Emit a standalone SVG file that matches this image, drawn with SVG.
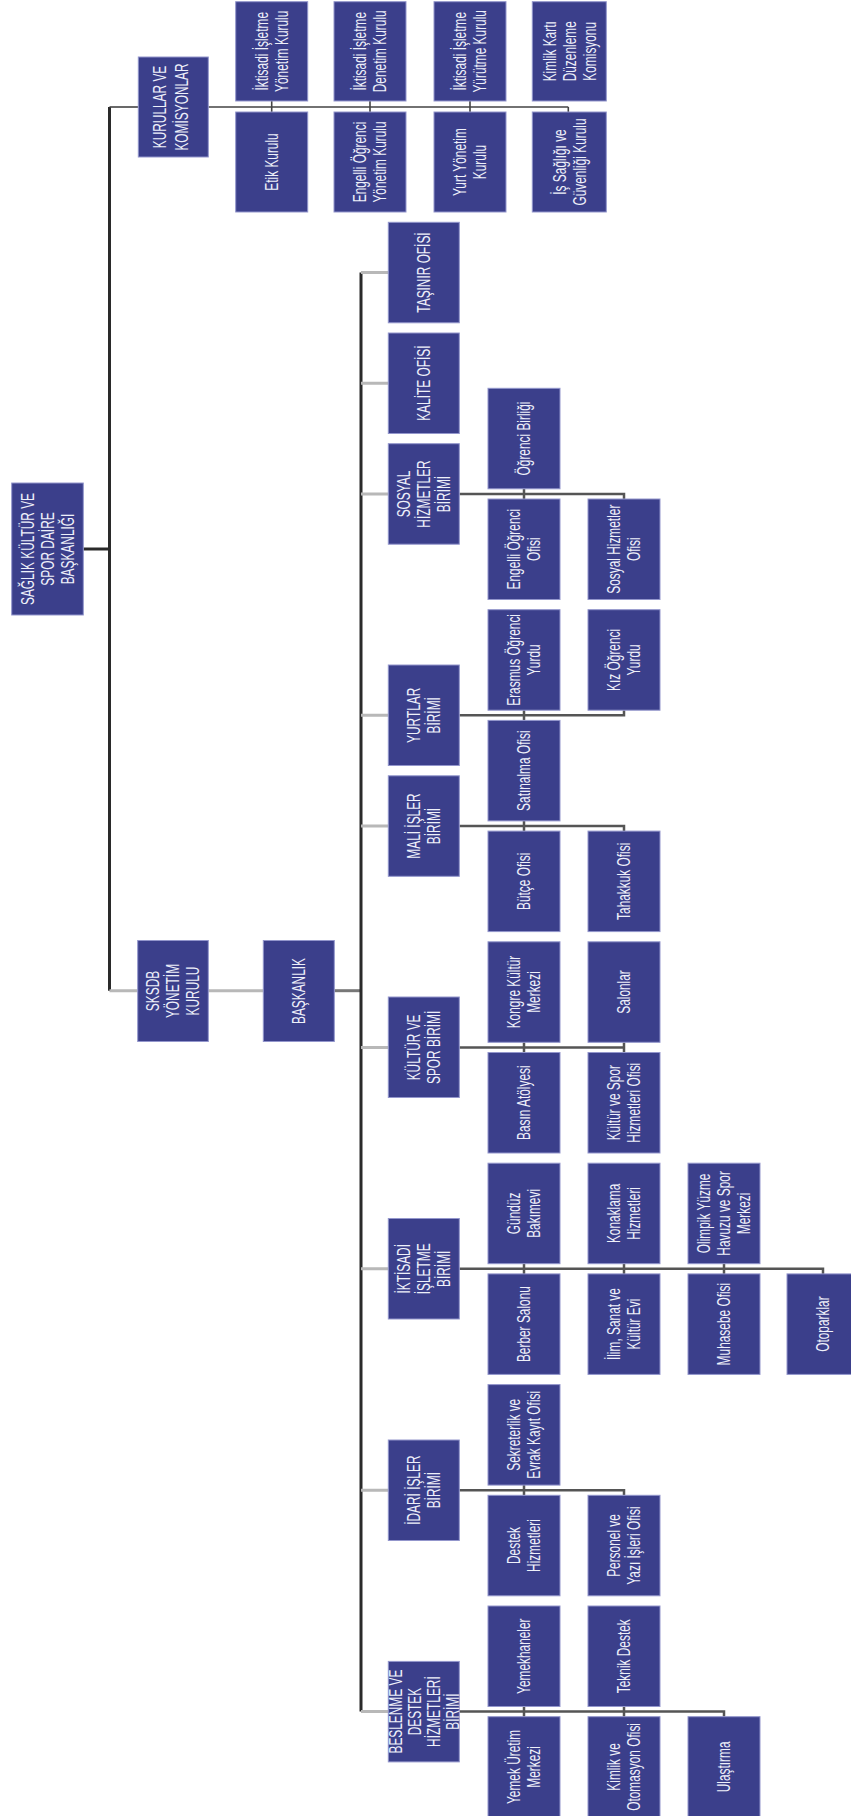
<svg xmlns="http://www.w3.org/2000/svg" width="851" height="1816" viewBox="0 0 851 1816">
<style>
.b{fill:#3b3f8b;stroke:#9396cc;stroke-width:1}
.t{font-family:"Liberation Sans",Arial,sans-serif;font-size:18px;fill:#eef0fa;text-anchor:middle}
.dk{fill:none;stroke:#2a2a2a;stroke-width:3}
.md{fill:none;stroke:#555;stroke-width:2.5}
.th{fill:none;stroke:#444;stroke-width:1.6}
.lg{fill:none;stroke:#b8b8b8;stroke-width:3}
.gr{fill:none;stroke:#777;stroke-width:3}
</style>
<rect width="851" height="1816" fill="#fff"/>
<g id="connectors">
<path class="dk" d="M83.3 549H109.5"/>
<path class="dk" d="M109.5 107V990.7"/>
<path class="th" d="M109.5 107H138.3"/>
<path class="lg" d="M109.5 990.7H137.7M208.3 990.7H263.3"/>
<path class="gr" d="M334.3 990.7H361"/>
<path class="dk" d="M361 272.5V1711.6"/>
<path class="lg" d="M361 272.5H388.3M361 383.2H388.3M361 494H388.3M361 715.3H388.3M361 826H388.3M361 1047.4H388.3M361 1268.8H388.3M361 1490.2H388.3M361 1711.6H388.3"/>
<path class="th" d="M208.3 107H568.3M271.7 101V112M370 101V112M470 101V112M568.3 107V112"/>
<path class="md" d="M459.3 494H624V499M524 489V499"/>
<path class="md" d="M459.3 715.3H624V710.2M524 710.2V720.4"/>
<path class="md" d="M459.3 826H624V831.1M524 820.9V831.1"/>
<path class="md" d="M459.3 1047.4H624M524 1042.3V1052.5M624 1042.3V1052.5"/>
<path class="md" d="M459.3 1268.8H823V1273.9M524 1263.7V1273.9M624 1263.7V1273.9M724 1263.7V1273.9"/>
<path class="md" d="M459.3 1490.2H624V1495.3M524 1485.1V1495.3"/>
<path class="md" d="M459.3 1711.6H724V1716.7M524 1706.5V1716.7M624 1706.5V1716.7"/>
</g>
<g id="root"><rect class="b" x="11.7" y="483" width="71.6" height="132"/><text class="t" transform="translate(47.5,549) rotate(-90) scale(0.66,1)"><tspan x="0" y="-13.6">SAĞLIK KÜLTÜR VE</tspan><tspan x="0" y="6.4">SPOR DAİRE</tspan><tspan x="0" y="26.4">BAŞKANLIĞI</tspan></text></g>
<g id="kurullar"><rect class="b" x="138.3" y="57" width="70" height="100"/><text class="t" transform="translate(171,107) rotate(-90) scale(0.66,1)"><tspan x="0" y="-4.6">KURULLAR VE</tspan><tspan x="0" y="17.4">KOMİSYONLAR</tspan></text></g>
<g id="sksdb"><rect class="b" x="137.7" y="940.5" width="70.6" height="101"/><text class="t" transform="translate(173,991) rotate(-90) scale(0.66,1)"><tspan x="0" y="-13.6">SKSDB</tspan><tspan x="0" y="6.4">YÖNETİM</tspan><tspan x="0" y="26.4">KURULU</tspan></text></g>
<g id="baskanlik"><rect class="b" x="263.3" y="940.5" width="71" height="101"/><text class="t" transform="translate(298.8,991) rotate(-90) scale(0.66,1)"><tspan x="0" y="6.4">BAŞKANLIK</tspan></text></g>
<g id="k1"><rect class="b" x="235.7" y="1.7" width="72" height="99.3"/><text class="t" transform="translate(271.7,51.3) rotate(-90) scale(0.66,1)"><tspan x="0" y="-3.6">İktisadi İşletme</tspan><tspan x="0" y="16.4">Yönetim Kurulu</tspan></text></g>
<g id="k2"><rect class="b" x="334" y="1.7" width="72" height="99.3"/><text class="t" transform="translate(370,51.3) rotate(-90) scale(0.66,1)"><tspan x="0" y="-3.6">İktisadi İşletme</tspan><tspan x="0" y="16.4">Denetim Kurulu</tspan></text></g>
<g id="k3"><rect class="b" x="434" y="1.7" width="72" height="99.3"/><text class="t" transform="translate(470,51.3) rotate(-90) scale(0.66,1)"><tspan x="0" y="-3.6">İktisadi İşletme</tspan><tspan x="0" y="16.4">Yürütme Kurulu</tspan></text></g>
<g id="k4"><rect class="b" x="532.3" y="1.7" width="74" height="99.3"/><text class="t" transform="translate(569.3,51.3) rotate(-90) scale(0.66,1)"><tspan x="0" y="-13.6">Kimlik Kartı</tspan><tspan x="0" y="6.4">Düzenleme</tspan><tspan x="0" y="26.4">Komisyonu</tspan></text></g>
<g id="k5"><rect class="b" x="235.7" y="112" width="72" height="100"/><text class="t" transform="translate(271.7,162) rotate(-90) scale(0.66,1)"><tspan x="0" y="6.4">Etik Kurulu</tspan></text></g>
<g id="k6"><rect class="b" x="334" y="112" width="72" height="100"/><text class="t" transform="translate(370,162) rotate(-90) scale(0.66,1)"><tspan x="0" y="-3.6">Engelli Öğrenci</tspan><tspan x="0" y="16.4">Yönetim Kurulu</tspan></text></g>
<g id="k7"><rect class="b" x="434" y="112" width="72" height="100"/><text class="t" transform="translate(470,162) rotate(-90) scale(0.66,1)"><tspan x="0" y="-3.6">Yurt Yönetim</tspan><tspan x="0" y="16.4">Kurulu</tspan></text></g>
<g id="k8"><rect class="b" x="532.3" y="112" width="74" height="100"/><text class="t" transform="translate(569.3,162) rotate(-90) scale(0.66,1)"><tspan x="0" y="-3.6">İş Sağlığı ve</tspan><tspan x="0" y="16.4">Güvenliği Kurulu</tspan></text></g>
<g id="tasinir"><rect class="b" x="388.3" y="222.3" width="71" height="100.5"/><text class="t" transform="translate(423.8,272.5) rotate(-90) scale(0.66,1)"><tspan x="0" y="6.4">TAŞINIR OFİSİ</tspan></text></g>
<g id="kalite"><rect class="b" x="388.3" y="333" width="71" height="100.5"/><text class="t" transform="translate(423.8,383.2) rotate(-90) scale(0.66,1)"><tspan x="0" y="6.4">KALİTE OFİSİ</tspan></text></g>
<g id="sosyal"><rect class="b" x="388.3" y="443.7" width="71" height="100.5"/><text class="t" transform="translate(423.8,494) rotate(-90) scale(0.66,1)"><tspan x="0" y="-13.6">SOSYAL</tspan><tspan x="0" y="6.4">HİZMETLER</tspan><tspan x="0" y="26.4">BİRİMİ</tspan></text></g>
<g id="yurtlar"><rect class="b" x="388.3" y="665" width="71" height="100.5"/><text class="t" transform="translate(423.8,715.3) rotate(-90) scale(0.66,1)"><tspan x="0" y="-3.6">YURTLAR</tspan><tspan x="0" y="16.4">BİRİMİ</tspan></text></g>
<g id="mali"><rect class="b" x="388.3" y="775.8" width="71" height="100.5"/><text class="t" transform="translate(423.8,826) rotate(-90) scale(0.66,1)"><tspan x="0" y="-3.6">MALİ İŞLER</tspan><tspan x="0" y="16.4">BİRİMİ</tspan></text></g>
<g id="kultur"><rect class="b" x="388.3" y="997" width="71" height="100.5"/><text class="t" transform="translate(423.8,1047.4) rotate(-90) scale(0.66,1)"><tspan x="0" y="-3.6">KÜLTÜR VE</tspan><tspan x="0" y="16.4">SPOR BİRİMİ</tspan></text></g>
<g id="iktisadi"><rect class="b" x="388.3" y="1218.5" width="71" height="100.5"/><text class="t" transform="translate(423.8,1268.8) rotate(-90) scale(0.66,1)"><tspan x="0" y="-13.6">İKTİSADİ</tspan><tspan x="0" y="6.4">İŞLETME</tspan><tspan x="0" y="26.4">BİRİMİ</tspan></text></g>
<g id="idari"><rect class="b" x="388.3" y="1440" width="71" height="100.5"/><text class="t" transform="translate(423.8,1490.2) rotate(-90) scale(0.66,1)"><tspan x="0" y="-3.6">İDARİ İŞLER</tspan><tspan x="0" y="16.4">BİRİMİ</tspan></text></g>
<g id="beslenme"><rect class="b" x="388.3" y="1661.4" width="71" height="100.5"/><text class="t" transform="translate(423.8,1711.6) rotate(-90) scale(0.66,1)"><tspan x="0" y="-21.6">BESLENME VE</tspan><tspan x="0" y="-2.6">DESTEK</tspan><tspan x="0" y="16.4">HİZMETLERİ</tspan><tspan x="0" y="35.4">BİRİMİ</tspan></text></g>
<g id="n-ogrenci-birligi"><rect class="b" x="488" y="388.3" width="72" height="100.5"/><text class="t" transform="translate(524,438.5) rotate(-90) scale(0.66,1)"><tspan x="0" y="6.4">Öğrenci Birliği</tspan></text></g>
<g id="n-engelli-ofisi"><rect class="b" x="488" y="499" width="72" height="100.5"/><text class="t" transform="translate(524,549.2) rotate(-90) scale(0.66,1)"><tspan x="0" y="-3.6">Engelli Öğrenci</tspan><tspan x="0" y="16.4">Ofisi</tspan></text></g>
<g id="n-sosyal-ofisi"><rect class="b" x="588" y="499" width="72" height="100.5"/><text class="t" transform="translate(624,549.2) rotate(-90) scale(0.66,1)"><tspan x="0" y="-3.6">Sosyal Hizmetler</tspan><tspan x="0" y="16.4">Ofisi</tspan></text></g>
<g id="n-erasmus"><rect class="b" x="488" y="609.7" width="72" height="100.5"/><text class="t" transform="translate(524,659.9) rotate(-90) scale(0.66,1)"><tspan x="0" y="-3.6">Erasmus Öğrenci</tspan><tspan x="0" y="16.4">Yurdu</tspan></text></g>
<g id="n-kiz"><rect class="b" x="588" y="609.7" width="72" height="100.5"/><text class="t" transform="translate(624,659.9) rotate(-90) scale(0.66,1)"><tspan x="0" y="-3.6">Kız Öğrenci</tspan><tspan x="0" y="16.4">Yurdu</tspan></text></g>
<g id="n-satinalma"><rect class="b" x="488" y="720.4" width="72" height="100.5"/><text class="t" transform="translate(524,770.6) rotate(-90) scale(0.66,1)"><tspan x="0" y="6.4">Satınalma Ofisi</tspan></text></g>
<g id="n-butce"><rect class="b" x="488" y="831.1" width="72" height="100.5"/><text class="t" transform="translate(524,881.3) rotate(-90) scale(0.66,1)"><tspan x="0" y="6.4">Bütçe Ofisi</tspan></text></g>
<g id="n-tahakkuk"><rect class="b" x="588" y="831.1" width="72" height="100.5"/><text class="t" transform="translate(624,881.3) rotate(-90) scale(0.66,1)"><tspan x="0" y="6.4">Tahakkuk Ofisi</tspan></text></g>
<g id="n-kongre"><rect class="b" x="488" y="941.8" width="72" height="100.5"/><text class="t" transform="translate(524,992) rotate(-90) scale(0.66,1)"><tspan x="0" y="-3.6">Kongre Kültür</tspan><tspan x="0" y="16.4">Merkezi</tspan></text></g>
<g id="n-salonlar"><rect class="b" x="588" y="941.8" width="72" height="100.5"/><text class="t" transform="translate(624,992) rotate(-90) scale(0.66,1)"><tspan x="0" y="6.4">Salonlar</tspan></text></g>
<g id="n-basin"><rect class="b" x="488" y="1052.5" width="72" height="100.5"/><text class="t" transform="translate(524,1102.7) rotate(-90) scale(0.66,1)"><tspan x="0" y="6.4">Basın Atölyesi</tspan></text></g>
<g id="n-ksho"><rect class="b" x="588" y="1052.5" width="72" height="100.5"/><text class="t" transform="translate(624,1102.7) rotate(-90) scale(0.66,1)"><tspan x="0" y="-3.6">Kültür ve Spor</tspan><tspan x="0" y="16.4">Hizmetleri Ofisi</tspan></text></g>
<g id="n-gunduz"><rect class="b" x="488" y="1163.2" width="72" height="100.5"/><text class="t" transform="translate(524,1213.4) rotate(-90) scale(0.66,1)"><tspan x="0" y="-3.6">Gündüz</tspan><tspan x="0" y="16.4">Bakımevi</tspan></text></g>
<g id="n-konaklama"><rect class="b" x="588" y="1163.2" width="72" height="100.5"/><text class="t" transform="translate(624,1213.4) rotate(-90) scale(0.66,1)"><tspan x="0" y="-3.6">Konaklama</tspan><tspan x="0" y="16.4">Hizmetleri</tspan></text></g>
<g id="n-olimpik"><rect class="b" x="688" y="1163.2" width="72" height="100.5"/><text class="t" transform="translate(724,1213.4) rotate(-90) scale(0.66,1)"><tspan x="0" y="-13.6">Olimpik Yüzme</tspan><tspan x="0" y="6.4">Havuzu ve Spor</tspan><tspan x="0" y="26.4">Merkezi</tspan></text></g>
<g id="n-berber"><rect class="b" x="488" y="1273.9" width="72" height="100.5"/><text class="t" transform="translate(524,1324.1) rotate(-90) scale(0.66,1)"><tspan x="0" y="6.4">Berber Salonu</tspan></text></g>
<g id="n-ilim"><rect class="b" x="588" y="1273.9" width="72" height="100.5"/><text class="t" transform="translate(624,1324.1) rotate(-90) scale(0.66,1)"><tspan x="0" y="-3.6">İlim, Sanat ve</tspan><tspan x="0" y="16.4">Kültür Evi</tspan></text></g>
<g id="n-muhasebe"><rect class="b" x="688" y="1273.9" width="72" height="100.5"/><text class="t" transform="translate(724,1324.1) rotate(-90) scale(0.66,1)"><tspan x="0" y="6.4">Muhasebe Ofisi</tspan></text></g>
<g id="n-otoparklar"><rect class="b" x="787" y="1273.9" width="72" height="100.5"/><text class="t" transform="translate(823,1324.1) rotate(-90) scale(0.66,1)"><tspan x="0" y="6.4">Otoparklar</tspan></text></g>
<g id="n-sekreterlik"><rect class="b" x="488" y="1384.6" width="72" height="100.5"/><text class="t" transform="translate(524,1434.8) rotate(-90) scale(0.66,1)"><tspan x="0" y="-3.6">Sekreterlik ve</tspan><tspan x="0" y="16.4">Evrak Kayıt Ofisi</tspan></text></g>
<g id="n-destek"><rect class="b" x="488" y="1495.3" width="72" height="100.5"/><text class="t" transform="translate(524,1545.5) rotate(-90) scale(0.66,1)"><tspan x="0" y="-3.6">Destek</tspan><tspan x="0" y="16.4">Hizmetleri</tspan></text></g>
<g id="n-personel"><rect class="b" x="588" y="1495.3" width="72" height="100.5"/><text class="t" transform="translate(624,1545.5) rotate(-90) scale(0.66,1)"><tspan x="0" y="-3.6">Personel ve</tspan><tspan x="0" y="16.4">Yazı İşleri Ofisi</tspan></text></g>
<g id="n-yemekhaneler"><rect class="b" x="488" y="1606" width="72" height="100.5"/><text class="t" transform="translate(524,1656.2) rotate(-90) scale(0.66,1)"><tspan x="0" y="6.4">Yemekhaneler</tspan></text></g>
<g id="n-teknik"><rect class="b" x="588" y="1606" width="72" height="100.5"/><text class="t" transform="translate(624,1656.2) rotate(-90) scale(0.66,1)"><tspan x="0" y="6.4">Teknik Destek</tspan></text></g>
<g id="n-yemek-uretim"><rect class="b" x="488" y="1716.7" width="72" height="100.5"/><text class="t" transform="translate(524,1766.9) rotate(-90) scale(0.66,1)"><tspan x="0" y="-3.6">Yemek Üretim</tspan><tspan x="0" y="16.4">Merkezi</tspan></text></g>
<g id="n-kimlik"><rect class="b" x="588" y="1716.7" width="72" height="100.5"/><text class="t" transform="translate(624,1766.9) rotate(-90) scale(0.66,1)"><tspan x="0" y="-3.6">Kimlik ve</tspan><tspan x="0" y="16.4">Otomasyon Ofisi</tspan></text></g>
<g id="n-ulastirma"><rect class="b" x="688" y="1716.7" width="72" height="100.5"/><text class="t" transform="translate(724,1766.9) rotate(-90) scale(0.66,1)"><tspan x="0" y="6.4">Ulaştırma</tspan></text></g>
</svg>
